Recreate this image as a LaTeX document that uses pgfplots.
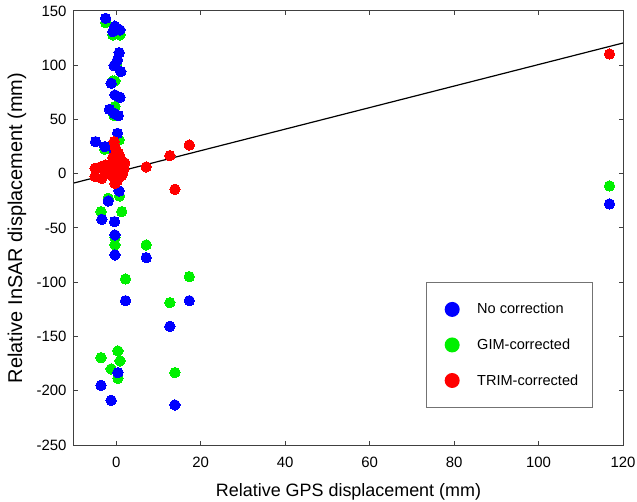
\documentclass[border=0pt]{standalone}
\usepackage{fontspec}
\setmainfont{Liberation Sans}
\usepackage{pgfplots}
\pgfplotsset{compat=1.18}
\definecolor{cblue}{RGB}{0,0,255}
\definecolor{cgreen}{RGB}{0,240,0}
\definecolor{cred}{RGB}{255,0,0}
\begin{document}
\begin{tikzpicture}
\begin{axis}[
  name=ax,
  scale only axis,
  width=549bp, height=434bp,
  xmin=-10, xmax=120, ymin=-250, ymax=150,
  xtick={0,20,...,120},
  ytick={-250,-200,...,150},
  tick align=inside,
  major tick length=4bp,
  axis line style={black!75, line width=1bp},
  tick style={black!75, line width=1bp},
  /pgf/number format/assume math mode=true,
  tick label style={font=\fontsize{15}{18}\selectfont},
  xticklabel style={yshift=-9bp},
  yticklabel style={xshift=-4bp},
  xlabel={Relative GPS displacement (mm)},
  ylabel={Relative InSAR displacement (mm)},
  xlabel style={font=\fontsize{18}{21}\selectfont, at={(axis description cs:0.5,-0.1198)}, anchor=base, inner sep=0pt},
  ylabel style={font=\fontsize{20}{23}\selectfont, at={(axis description cs:-0.0947,0.5)}, anchor=base, inner sep=0pt},
  legend image code/.code={\path (-16bp,0bp) (7.5bp,0bp); \fill[#1] (0bp,0bp) circle (7.5bp);},
  legend cell align=left,
  legend style={at={(rel axis cs:0.945,0.085)}, anchor=south east,
    draw=black!55, line width=1.2bp,
    font=\fontsize{14.6}{17}\selectfont,
    inner xsep=10bp, inner ysep=17bp,
    row sep=15.5bp, column sep=13.5bp,
    nodes={inner sep=4bp}},
]
\addlegendimage{fill=cblue, draw=none}
\addlegendentry{No correction}
\addlegendimage{fill=cgreen, draw=none}
\addlegendentry{GIM-corrected}
\addlegendimage{fill=cred, draw=none}
\addlegendentry{TRIM-corrected}

% GIM-corrected
\addplot[only marks, mark=*, mark size=5.2bp, color=cgreen, mark options={draw=cgreen, fill=cgreen, line width=0pt}, forget plot] coordinates {
(-2.5,139.3) (-0.8,128) (0.9,128) (0.1,102) (-0.8,85.5) (-0.3,85.5)
(-0.3,61.9) (-0.5,53.6) (0.7,31.2) (-2.7,22.6) (0.8,-20.5) (-1.9,-22.6)
(-3.6,-34.9) (1.3,-34.9) (-0.3,-58.5) (-0.3,-65.6) (7.1,-65.6) (2.2,-97)
(17.3,-94.8) (12.7,-118.8) (-3.6,-169.5) (0.4,-163.3) (0.9,-172.5)
(-1.2,-179.9) (0.4,-188.5) (13.9,-183.3) (116.8,-11.2)
};
% No correction
\addplot[only marks, mark=*, mark size=5.2bp, color=cblue, mark options={draw=cblue, fill=cblue, line width=0pt}, forget plot] coordinates {
(-2.5,143.3) (-0.3,136) (-0.8,131) (0.9,132.5) (0.7,111.6) (0.3,104.9)
(-0.5,99.6) (1.1,94.1) (-1.2,83.4) (-0.3,72.6) (0.9,70.5) (-1.6,59.4)
(-0.5,55.7) (0.5,53.6) (0.3,37.3) (-4.9,29.6) (-2.7,25) (-0.5,21.9)
(0.7,-15.9) (-1.9,-25.1) (-3.4,-42) (-0.4,-44.1) (-0.3,-56.4) (-0.3,-74.8)
(7.1,-77.3) (2.2,-117) (17.3,-117) (12.7,-140.6) (0.4,-183.3) (-3.6,-195)
(-1.2,-208.8) (13.9,-213.1) (116.8,-27.8)
};
% TRIM-corrected
\addplot[only marks, mark=*, mark size=5.2bp, color=cred, mark options={draw=cred, fill=cred, line width=0pt}, forget plot] coordinates {
(116.8,110.4) (17.3,26.5) (12.7,16.7) (7.1,6.3) (13.9,-14.3) (-0.5,29.6)
(-5,-2.6) (-3.4,-4.2) (-3.6,6.5) (-5,5) (-3.5,5) (-2,3) (-1,8) (-0.5,12)
(0,16) (0.5,18) (1,14) (-0.5,4) (0,0) (0.5,-3) (1,2) (1.5,0) (0.3,-6)
(-0.3,-9) (0.8,8) (-1.5,0) (1.8,4) (0,20) (0.7,10) (-1,-2) (-0.2,24)
(0.5,19) (1.2,-2) (-0.8,15) (2,10) (-2.5,8)
};
% regression line
\addplot[black, line width=1.2bp, forget plot] coordinates {(-10,-8.5) (120,120.5)};
\end{axis}
\pgfresetboundingbox
\path ([shift={(-74bp,-57bp)}]ax.south west) rectangle ([shift={(14bp,11bp)}]ax.north east);
\end{tikzpicture}
\end{document}
